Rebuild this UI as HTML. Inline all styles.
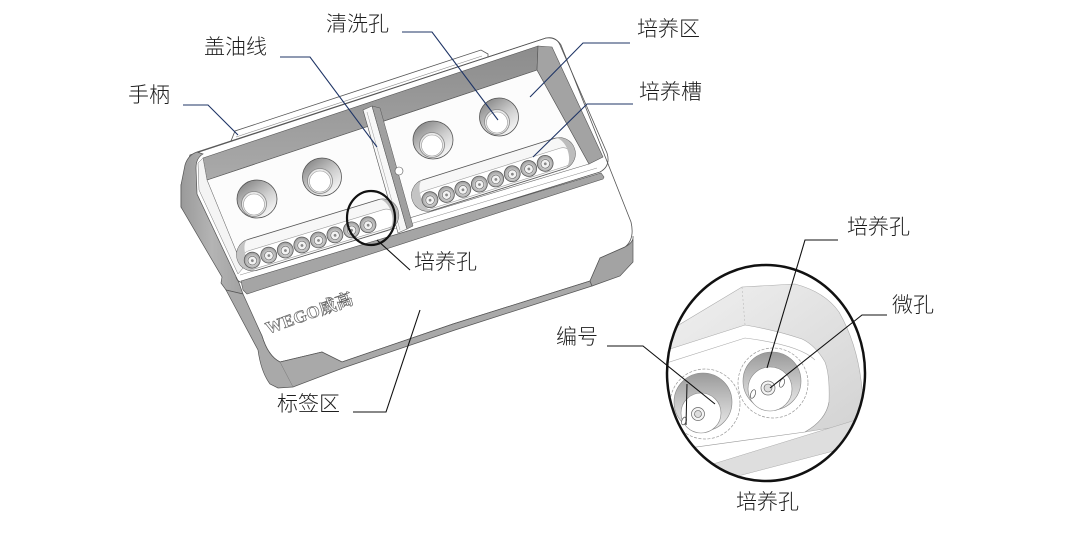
<!DOCTYPE html>
<html><head><meta charset="utf-8"><style>
html,body{margin:0;padding:0;background:#fff;width:1080px;height:536px;overflow:hidden}
svg{display:block}
.t{font-family:"Liberation Sans","Noto Sans CJK SC",sans-serif;font-size:21px;font-weight:300;fill:#1e1e1e}
.nv{fill:none;stroke:#1f3566;stroke-width:1.1}
.bk{fill:none;stroke:#111;stroke-width:1.1}
</style></head><body>
<svg width="1080" height="536" viewBox="0 0 1080 536" xmlns="http://www.w3.org/2000/svg">
<defs>
<linearGradient id="gWall" x1="0" y1="0" x2="0" y2="1"><stop offset="0" stop-color="#8c8c8c"/><stop offset="1" stop-color="#aaaaaa"/></linearGradient>
<linearGradient id="gSide" x1="0" y1="0" x2="1" y2="0"><stop offset="0" stop-color="#9a9a9a"/><stop offset="0.5" stop-color="#b4b4b4"/><stop offset="1" stop-color="#a2a2a2"/></linearGradient>
<linearGradient id="gWash" x1="0.2" y1="0.1" x2="0.8" y2="0.9"><stop offset="0" stop-color="#8e8e8e"/><stop offset="0.55" stop-color="#cfcfcf"/><stop offset="1" stop-color="#f5f5f5"/></linearGradient>
<radialGradient id="gCul" cx="0.5" cy="0.55" r="0.6"><stop offset="0" stop-color="#f4f4f4"/><stop offset="0.55" stop-color="#c4c4c4"/><stop offset="1" stop-color="#8a8a8a"/></radialGradient>
<linearGradient id="gCone" x1="0" y1="0" x2="0" y2="1"><stop offset="0" stop-color="#9a9a9a"/><stop offset="0.6" stop-color="#cdcdcd"/><stop offset="1" stop-color="#ececec"/></linearGradient>
<linearGradient id="gZband" x1="0" y1="0" x2="1" y2="1"><stop offset="0" stop-color="#f1f1f1"/><stop offset="1" stop-color="#d2d2d2"/></linearGradient>
<clipPath id="cBig"><ellipse cx="766" cy="373" rx="99" ry="108"/></clipPath>
</defs>

<!-- handle ledge -->
<path d="M229,146 L235,131 L481,50 L488,54 L488,62 L232,150 Z" fill="#fff" stroke="#555" stroke-width="0.8"/>
<line x1="236" y1="137" x2="482" y2="56" stroke="#888" stroke-width="0.6"/>

<!-- base top face -->
<path d="M190,155 L546,38 Q556,37 561,45 L631,222 Q635,239 625,247 L600,258 L590,281 L453,324 L342,362 L322,352 L280,362 Q268,356 262,336 L242,294 L181,207 L181,185 Z" fill="#fff" stroke="#555" stroke-width="0.8"/>

<!-- left gray face upper -->
<path d="M197,152 Q188,155 185,165 L181,185 L181,207 L222,277 L221,283 L226,290 L243,294 L239,283 L197,194 L196,168 Q196,158 203,154 Z" fill="url(#gSide)" stroke="#555" stroke-width="0.7"/>
<!-- lower left + front band -->
<path d="M226,290 L258,350 Q261,372 270,384 L278,388 L293,387 L343,368 L455,330 L592,286 L590,281 L453,324 L342,362 L322,352 L280,362 Q268,356 262,336 L243,294 Z" fill="#a9a9a9" stroke="#555" stroke-width="0.7"/>
<line x1="280" y1="362" x2="293" y2="387" stroke="#777" stroke-width="0.5"/>
<!-- right gray face -->
<path d="M600,258 L625,247 Q634,242 633,236 L633,262 L620,276 L592,286 L590,281 Z" fill="#a3a3a3" stroke="#555" stroke-width="0.7"/>

<!-- tray -->
<path d="M197,152 L546,38 Q556,36 560,45 L607,153 Q611,166 600,172 L246,282 Q238,284 236,277" fill="none" stroke="#555" stroke-width="0.8"/>
<polygon points="207,180 537,70 589,164 243,268" fill="#fcfcfc" stroke="#666" stroke-width="0.6"/>
<polygon points="203,158 538,46 537,70 207,180" fill="url(#gWall)" stroke="#555" stroke-width="0.6"/>
<polygon points="538,46 552,47 603,157 589,164 537,70" fill="#a3a3a3" stroke="#555" stroke-width="0.6"/>
<polygon points="203,158 207,180 243,268 238,274 199,190 198,163" fill="#f4f4f4" stroke="#777" stroke-width="0.5"/>
<polygon points="241,281 601,173 604,177 603,179 247,294 243,290" fill="#a5a5a5" stroke="#555" stroke-width="0.6"/>
<line x1="240" y1="275" x2="597" y2="168" stroke="#888" stroke-width="0.5"/>

<!-- divider -->
<polygon points="363,110 372,106 407,229 398,233" fill="#f7f7f7" stroke="#555" stroke-width="0.6"/>
<polygon points="372,106 380,108 413,226 407,229" fill="#a0a0a0" stroke="#555" stroke-width="0.5"/>
<line x1="367" y1="112" x2="400" y2="230" stroke="#999" stroke-width="0.5"/>
<circle cx="399" cy="171" r="4" fill="#fff" stroke="#555" stroke-width="0.6"/>

<!-- wash holes -->
<g stroke="#555" stroke-width="0.8">
<ellipse cx="257" cy="199" rx="20" ry="19" fill="url(#gWash)"/>
<circle cx="254" cy="204" r="12.5" fill="#e8e8e8" stroke="#888"/>
<circle cx="254" cy="204.5" r="10.5" fill="#fff" stroke="#999" stroke-width="0.6"/>
<ellipse cx="322" cy="177" rx="19.5" ry="19" fill="url(#gWash)"/>
<circle cx="320" cy="181" r="12.5" fill="#e8e8e8" stroke="#888"/>
<circle cx="320" cy="181.5" r="10.5" fill="#fff" stroke="#999" stroke-width="0.6"/>
<ellipse cx="433" cy="140" rx="20" ry="19" fill="url(#gWash)"/>
<circle cx="432" cy="145" r="12.5" fill="#e8e8e8" stroke="#888"/>
<circle cx="432" cy="145.5" r="10.5" fill="#fff" stroke="#999" stroke-width="0.6"/>
<ellipse cx="499" cy="117" rx="19.5" ry="19" fill="url(#gWash)"/>
<circle cx="497" cy="122" r="12.5" fill="#e8e8e8" stroke="#888"/>
<circle cx="497" cy="122.5" r="10.5" fill="#fff" stroke="#999" stroke-width="0.6"/>
</g>

<!-- left trough -->
<g transform="translate(314.8,235.8) rotate(-17)">
<rect x="-81" y="-16" width="168" height="32" rx="16" fill="#f7f7f7" stroke="#555" stroke-width="0.8"/>
<rect x="-77" y="-5" width="160" height="19" rx="9.5" fill="#fff" stroke="#999" stroke-width="0.6"/>
<path d="M71,-16 A16 16 0 0 1 71,16 A9 16 0 0 0 71,-16 Z" fill="#bcbcbc"/>
<path d="M-65,-16 A16 16 0 0 0 -65,16 A7 16 0 0 1 -65,-16 Z" fill="#c4c4c4"/>
<g stroke="#555" stroke-width="0.7">
<circle cx="-67" cy="5" r="8" fill="url(#gCul)"/><circle cx="-49.7" cy="5" r="8" fill="url(#gCul)"/><circle cx="-32.4" cy="5" r="8" fill="url(#gCul)"/><circle cx="-15.1" cy="5" r="8" fill="url(#gCul)"/><circle cx="2.2" cy="5" r="8" fill="url(#gCul)"/><circle cx="19.5" cy="5" r="8" fill="url(#gCul)"/><circle cx="36.8" cy="5" r="8" fill="url(#gCul)"/><circle cx="54.1" cy="5" r="8" fill="url(#gCul)"/>
</g>
<g stroke="#666" stroke-width="0.6" fill="#f2f2f2">
<circle cx="-67" cy="5.5" r="4.3"/><circle cx="-49.7" cy="5.5" r="4.3"/><circle cx="-32.4" cy="5.5" r="4.3"/><circle cx="-15.1" cy="5.5" r="4.3"/><circle cx="2.2" cy="5.5" r="4.3"/><circle cx="19.5" cy="5.5" r="4.3"/><circle cx="36.8" cy="5.5" r="4.3"/><circle cx="54.1" cy="5.5" r="4.3"/>
</g>
<g fill="#888">
<circle cx="-67" cy="5.5" r="1.4"/><circle cx="-49.7" cy="5.5" r="1.4"/><circle cx="-32.4" cy="5.5" r="1.4"/><circle cx="-15.1" cy="5.5" r="1.4"/><circle cx="2.2" cy="5.5" r="1.4"/><circle cx="19.5" cy="5.5" r="1.4"/><circle cx="36.8" cy="5.5" r="1.4"/><circle cx="54.1" cy="5.5" r="1.4"/>
</g>
</g>

<!-- right trough -->
<g transform="translate(490.6,175.3) rotate(-17.5)">
<rect x="-82" y="-16" width="170" height="32" rx="16" fill="#f7f7f7" stroke="#555" stroke-width="0.8"/>
<rect x="-78" y="-5" width="162" height="19" rx="9.5" fill="#fff" stroke="#999" stroke-width="0.6"/>
<path d="M72,-16 A16 16 0 0 1 72,16 A9 16 0 0 0 72,-16 Z" fill="#bcbcbc"/>
<path d="M-66,-16 A16 16 0 0 0 -66,16 A7 16 0 0 1 -66,-16 Z" fill="#c4c4c4"/>
<g stroke="#555" stroke-width="0.7">
<circle cx="-65.2" cy="5" r="8" fill="url(#gCul)"/><circle cx="-47.9" cy="5" r="8" fill="url(#gCul)"/><circle cx="-30.7" cy="5" r="8" fill="url(#gCul)"/><circle cx="-13.4" cy="5" r="8" fill="url(#gCul)"/><circle cx="3.8" cy="5" r="8" fill="url(#gCul)"/><circle cx="21.1" cy="5" r="8" fill="url(#gCul)"/><circle cx="38.4" cy="5" r="8" fill="url(#gCul)"/><circle cx="55.6" cy="5" r="8" fill="url(#gCul)"/>
</g>
<g stroke="#666" stroke-width="0.6" fill="#f2f2f2">
<circle cx="-65.2" cy="5.5" r="4.3"/><circle cx="-47.9" cy="5.5" r="4.3"/><circle cx="-30.7" cy="5.5" r="4.3"/><circle cx="-13.4" cy="5.5" r="4.3"/><circle cx="3.8" cy="5.5" r="4.3"/><circle cx="21.1" cy="5.5" r="4.3"/><circle cx="38.4" cy="5.5" r="4.3"/><circle cx="55.6" cy="5.5" r="4.3"/>
</g>
<g fill="#888">
<circle cx="-65.2" cy="5.5" r="1.4"/><circle cx="-47.9" cy="5.5" r="1.4"/><circle cx="-30.7" cy="5.5" r="1.4"/><circle cx="-13.4" cy="5.5" r="1.4"/><circle cx="3.8" cy="5.5" r="1.4"/><circle cx="21.1" cy="5.5" r="1.4"/><circle cx="38.4" cy="5.5" r="1.4"/><circle cx="55.6" cy="5.5" r="1.4"/>
</g>
</g>

<!-- logo -->
<text transform="translate(268,334) rotate(-19.5)" style="font-family:'Liberation Serif','Noto Serif CJK SC',serif;font-weight:bold;font-size:17px;letter-spacing:0.5px;fill:#fff;stroke:#666;stroke-width:0.7">WEGO威高</text>

<!-- small callout circle -->
<ellipse cx="371" cy="218" rx="24" ry="27" fill="none" stroke="#111" stroke-width="2.2"/>

<!-- big detail circle -->
<ellipse cx="766" cy="373" rx="99" ry="108" fill="#fff"/>
<g clip-path="url(#cBig)">
<path d="M660,335 L672,329 L742,287 L795,284 Q825,292 839,312 Q858,345 862,389 L870,400 L870,430 L855,424 L805,432 Q826,420 829,402 Q830,375 825,362 Q815,345 802,339 Q775,330 745,325 L670,349 L660,353 Z" fill="url(#gZband)" stroke="#aaa" stroke-width="0.6"/>
<line x1="742" y1="287" x2="745" y2="325" stroke="#bbb" stroke-width="0.6" stroke-dasharray="2,2"/>
<path d="M660,365 L745,338 Q800,345 815,360" fill="none" stroke="#aaa" stroke-width="0.6"/>
<path d="M660,452 L805,432 Q826,420 829,402" fill="none" stroke="#999" stroke-width="0.6"/>
<polygon points="700,468 859,419 866,436 849,447 719,481 700,487" fill="#dedede" stroke="#aaa" stroke-width="0.5"/>
<line x1="660" y1="474" x2="700" y2="468" stroke="#aaa" stroke-width="0.5"/>
<!-- hole B -->
<circle cx="705" cy="404" r="35" fill="#fff" stroke="#999" stroke-width="0.7" stroke-dasharray="3,1.5"/>
<circle cx="703" cy="402" r="29" fill="url(#gCone)" stroke="#888" stroke-width="0.6"/>
<circle cx="701" cy="413" r="20" fill="#fff" stroke="#888" stroke-width="0.6"/>
<circle cx="698" cy="414" r="6.5" fill="#f4f4f4" stroke="#666" stroke-width="0.7"/>
<circle cx="698" cy="414" r="3.5" fill="#ddd" stroke="#555" stroke-width="0.6"/>
<ellipse cx="684" cy="421" rx="2.2" ry="4" fill="#fff" stroke="#555" stroke-width="0.7" transform="rotate(20 684 421)"/>
<!-- hole A -->
<circle cx="773" cy="383" r="35" fill="#fff" stroke="#999" stroke-width="0.7" stroke-dasharray="3,1.5"/>
<circle cx="772" cy="381" r="29" fill="url(#gCone)" stroke="#888" stroke-width="0.6"/>
<circle cx="770" cy="389" r="22" fill="#fff" stroke="#888" stroke-width="0.6"/>
<circle cx="768" cy="388" r="7" fill="#f4f4f4" stroke="#666" stroke-width="0.7"/>
<circle cx="768" cy="388" r="4" fill="#ddd" stroke="#555" stroke-width="0.6"/>
<ellipse cx="753" cy="394" rx="2.3" ry="4.5" fill="#fff" stroke="#555" stroke-width="0.7" transform="rotate(20 753 394)"/>
<ellipse cx="782" cy="383" rx="2.3" ry="4.5" fill="#fff" stroke="#555" stroke-width="0.7" transform="rotate(20 782 383)"/>
<line x1="687" y1="384" x2="686" y2="425" stroke="#111" stroke-width="1"/>
</g>
<ellipse cx="766" cy="373" rx="99" ry="108" fill="none" stroke="#111" stroke-width="2.5"/>

<!-- navy leaders -->
<polyline class="nv" points="402,32 432,32 498,120"/>
<polyline class="nv" points="280,57 310,57 377,147"/>
<polyline class="nv" points="183,105 208,105 238,135"/>
<polyline class="nv" points="630,43 583,43 530,97"/>
<polyline class="nv" points="633,104 587,104 533,157"/>

<!-- black leaders -->
<polyline class="bk" points="410,270 377,240"/>
<polyline class="bk" points="353,412 386,412 420,310"/>
<polyline class="bk" points="607,346 643,346 715,404"/>
<polyline class="bk" points="838,240 805,240 767,368"/>
<polyline class="bk" points="887,315 862,315 770,388"/>

<!-- labels -->
<text class="t" x="326" y="31">清洗孔</text>
<text class="t" x="204" y="54">盖油线</text>
<text class="t" x="128" y="102">手柄</text>
<text class="t" x="637" y="36">培养区</text>
<text class="t" x="639" y="99">培养槽</text>
<text class="t" x="414" y="269">培养孔</text>
<text class="t" x="277" y="411">标签区</text>
<text class="t" x="556" y="344">编号</text>
<text class="t" x="847" y="234">培养孔</text>
<text class="t" x="892" y="312">微孔</text>
<text class="t" x="736" y="509">培养孔</text>
</svg>
</body></html>
